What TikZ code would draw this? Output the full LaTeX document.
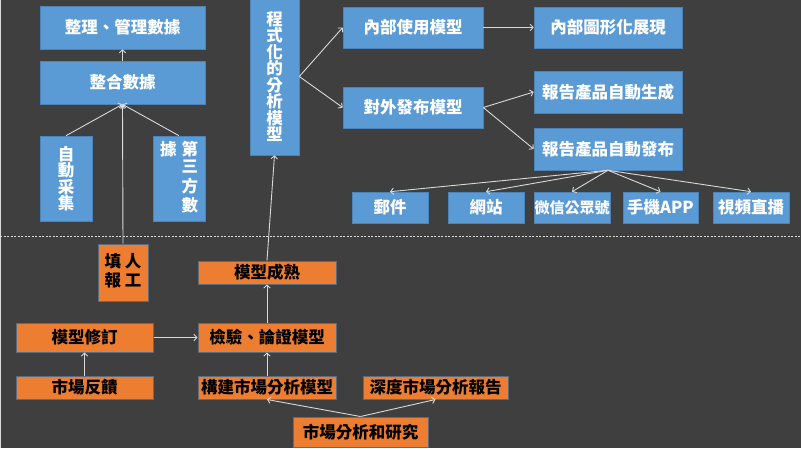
\documentclass[tikz,border=0pt]{standalone}
\usepackage{fontspec}
\newfontfamily\cjk{Noto Sans CJK TC}
\usetikzlibrary{arrows.meta}
\tikzset{>={Straight Barb[length=3pt,width=6.5pt]}}
\definecolor{bg}{HTML}{3F3F3F}
\definecolor{blu}{HTML}{5B9BD5}
\definecolor{ora}{HTML}{ED7D31}
\definecolor{rim}{HTML}{5E6B7B}
\definecolor{wire}{HTML}{D9D9D9}
\tikzset{
  sz/.style 2 args={minimum width=#1pt, minimum height=#2pt},
  box/.style={inner sep=0pt, align=center,
    font=\cjk\bfseries\fontsize{16.5}{16.5}\selectfont},
  bluebox/.style={box, fill=blu, draw=blu!85!black, line width=0.6pt, text=white},
  orangebox/.style={box, fill=ora, draw=rim, line width=1pt, text=black},
  link/.style={->, wire, line width=0.9pt},
}

\begin{document}
\begin{tikzpicture}[x=1pt,y=-1pt]
  \fill[bg] (0,0) rectangle (801,448);
  \useasboundingbox (0,0) rectangle (801,448);
  \draw[wire, line width=1.2pt] (0.6,0) -- (0.6,448);
  \draw[wire, line width=0.8pt, dash pattern=on 2pt off 1.5pt] (0,236) -- (801,236); % split

  % upper part
  \node[bluebox, sz={165}{43}] (zhengli) at (122.5,27.5) {整理、管理數據};
  \node[bluebox, sz={165}{43}] (zhenghe) at (122.5,82.5) {整合數據};
  \node[bluebox, sz={52}{85}] (zidong) at (66,178.5) {自\\動\\采\\集};
  \node[bluebox, sz={52}{85}] (disanfang) at (179,178.5)
    {\begin{tabular}{@{}c@{\hspace{5pt}}c@{}}據 & 第\\ & 三\\ & 方\\ & 數\end{tabular}};
  \node[bluebox, sz={49}{157}] (chengshi) at (274.5,76.5) {程\\式\\化\\的\\分\\析\\模\\型};
  \node[bluebox, sz={140}{41}] (neibu) at (413,27.5) {內部使用模型};
  \node[bluebox, sz={148}{41}] (tuxing) at (608,27.5) {內部圖形化展現};
  \node[bluebox, sz={140}{41}] (duiwai) at (413,107.5) {對外發布模型};
  \node[bluebox, sz={148}{42}] (shengcheng) at (608,92) {報告產品自動生成};
  \node[bluebox, sz={148}{42}] (fabu) at (608,149) {報告產品自動發布};
  \node[bluebox, sz={76}{31}] (youjian) at (390,207.5) {郵件};
  \node[bluebox, sz={76}{31}] (wangzhan) at (486,207.5) {網站};
  \node[bluebox, sz={76}{31}, font=\cjk\bfseries\fontsize{15}{15}\selectfont] (weixin) at (572,207.5) {微信公眾號};
  \node[bluebox, sz={75}{31}] (shouji) at (660.5,207.5) {手機APP};
  \node[bluebox, sz={76}{31}] (shipin) at (751,207.5) {視頻直播};

  % lower part
  \node[orangebox, sz={50}{57}] (rengong) at (123,272.5)
    {\begin{tabular}{@{}c@{\hspace{4pt}}c@{}}填 & 人\\ 報 & 工\end{tabular}};
  \node[orangebox, sz={138}{23}] (chengshu) at (267,272.5) {模型成熟};
  \node[orangebox, sz={137}{29}] (xiuding) at (84.5,337.5) {模型修訂};
  \node[orangebox, sz={138}{29}] (jianyan) at (267,337.5) {檢驗、論證模型};
  \node[orangebox, sz={137}{23}] (fankui) at (84.5,387.5) {市場反饋};
  \node[orangebox, sz={138}{23}] (goujian) at (267,387.5) {構建市場分析模型};
  \node[orangebox, sz={145}{23}] (shendu) at (435.5,387.5) {深度市場分析報告};
  \node[orangebox, sz={135}{30}] (yanjiu) at (360.5,432) {市場分析和研究};

  \draw[link] (zhenghe) -- (zhengli);
  \foreach \src in {zidong,disanfang,rengong}
    \draw[link] (\src.north) -- (zhenghe.south);
  \draw[link] (chengshu.north) -- (chengshi.south);
  \draw[link] (chengshi.east) -- (neibu.west);
  \draw[link] (chengshi.east) -- (duiwai.west);
  \draw[link] (neibu) -- (tuxing);
  \draw[link] (duiwai.east) -- (shengcheng.west);
  \draw[link] (duiwai.east) -- (fabu.west);
  \foreach \dst in {youjian,wangzhan,weixin,shouji,shipin}
    \draw[link] (fabu.south) -- (\dst.north);

  \draw[link] (jianyan) -- (chengshu);
  \draw[link] (xiuding) -- (jianyan);
  \draw[link] (fankui) -- (xiuding);
  \draw[link] (goujian) -- (jianyan);
  \draw[link] (yanjiu.north) -- (goujian.south);
  \draw[link] (yanjiu.north) -- (shendu.south);
\end{tikzpicture}
\end{document}
